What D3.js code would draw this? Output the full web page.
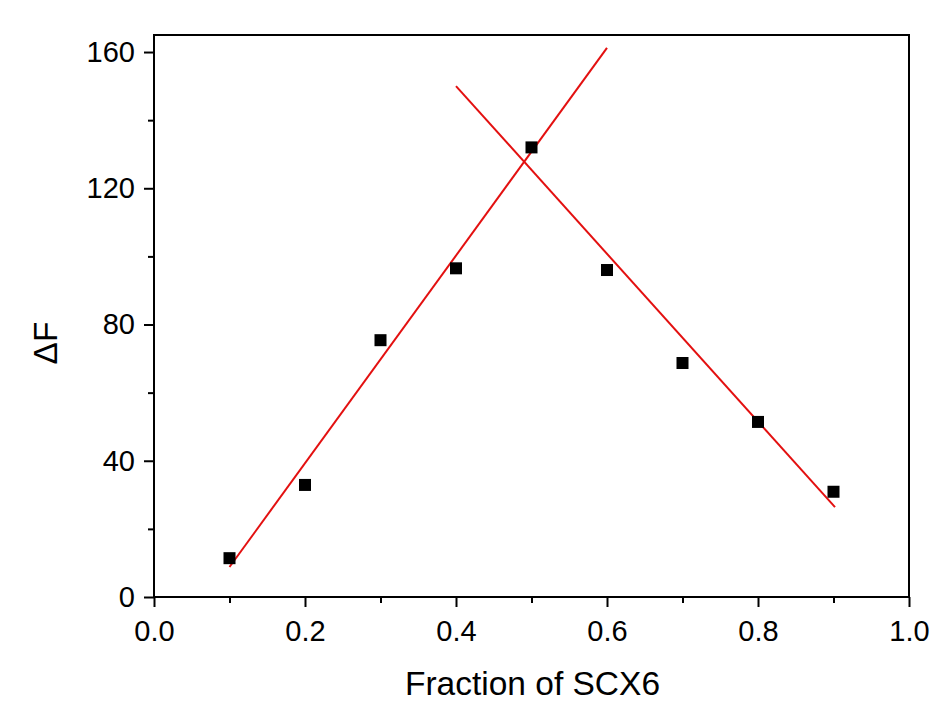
<!DOCTYPE html>
<html>
<head>
<meta charset="utf-8">
<script src="https://cdn.jsdelivr.net/npm/d3@7"></script>
<style>
  body { margin: 0; background: #fff; }
  text { font-family: "Liberation Sans", Arial, sans-serif; fill: #000; }
</style>
</head>
<body>
<div id="chart"></div>
<script>
const fractions = [0.1, 0.2, 0.3, 0.4, 0.5, 0.6, 0.7, 0.8, 0.9];
const deltaF = [11.4, 32.9, 75.4, 96.5, 132, 96, 68.7, 51.4, 30.9];
const riseFit = [[0.1, 8.8], [0.6, 161.2]];
const fallFit = [[0.4, 150], [0.902, 26.4]];
const xTicks = [0, 0.2, 0.4, 0.6, 0.8, 1.0];
const yTicks = [0, 40, 80, 120, 160];

const margin = { top: 35, right: 30, bottom: 107, left: 154 };
const width = 939 - margin.left - margin.right;
const height = 704 - margin.top - margin.bottom;

const svg = d3.select("#chart")
  .append("svg")
  .attr("width", 939)
  .attr("height", 704)
  .append("g")
  .attr("transform", `translate(${margin.left},${margin.top})`);

const x = d3.scaleLinear().domain([0, 1]).range([0, width]);
const y = d3.scaleLinear().domain([0, 165]).range([height, 0]);

// minor ticks
svg.append("g")
  .attr("transform", `translate(0,${height})`)
  .call(d3.axisBottom(x).tickValues(d3.range(0.1, 1, 0.2)).tickSize(6).tickFormat(""))
  .call(g => g.select(".domain").remove());
svg.append("g")
  .call(d3.axisLeft(y).tickValues(d3.range(20, 165, 40)).tickSize(6).tickFormat(""))
  .call(g => g.select(".domain").remove());

// major ticks
const xAxis = svg.append("g")
  .attr("transform", `translate(0,${height})`)
  .call(d3.axisBottom(x).tickValues(xTicks).tickSize(10).tickPadding(13).tickFormat(d3.format(".1f")));
const yAxis = svg.append("g")
  .call(d3.axisLeft(y).tickValues(yTicks).tickSize(10).tickPadding(9).tickFormat(d3.format("d")));

[xAxis, yAxis].forEach(g => {
  g.select(".domain").remove();
  g.selectAll("text").style("font-size", "29px");
});
svg.selectAll(".tick line").attr("stroke", "#000").attr("stroke-width", 2);

svg.append("rect")
  .attr("width", width)
  .attr("height", height)
  .attr("fill", "none")
  .attr("stroke", "#000")
  .attr("stroke-width", 2);

const line = d3.line().x(d => x(d[0])).y(d => y(d[1]));
[riseFit, fallFit].forEach(seg => {
  svg.append("path")
    .attr("d", line(seg))
    .attr("fill", "none")
    .attr("stroke", "#e31010")
    .attr("stroke-width", 2);
});

svg.selectAll(".pt")
  .data(fractions.map((f, i) => [f, deltaF[i]]))
  .enter()
  .append("rect")
  .attr("class", "pt")
  .attr("x", d => x(d[0]) - 6)
  .attr("y", d => y(d[1]) - 6)
  .attr("width", 12)
  .attr("height", 12)
  .attr("fill", "#000");

svg.append("text")
  .attr("x", width / 2 + 1)
  .attr("y", height + 98)
  .attr("text-anchor", "middle")
  .style("font-size", "33.5px")
  .text("Fraction of SCX6");

svg.append("text")
  .attr("transform", "rotate(-90)")
  .attr("x", -(343 - margin.top))
  .attr("y", 57 - margin.left)
  .attr("text-anchor", "middle")
  .style("font-size", "33.5px")
  .text("ΔF");
</script>
</body>
</html>
